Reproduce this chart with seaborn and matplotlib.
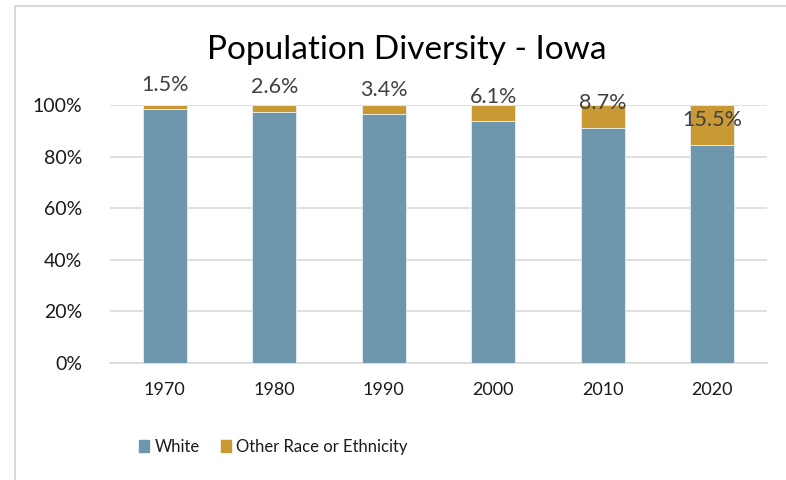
import matplotlib
matplotlib.use("Agg")
import matplotlib.pyplot as plt
import matplotlib.patches as mpatches
import seaborn as sns
import pandas as pd
from matplotlib.ticker import FuncFormatter

years = ["1970", "1980", "1990", "2000", "2010", "2020"]
white = [98.5, 97.4, 96.6, 93.9, 91.3, 84.5]
other = [1.5, 2.6, 3.4, 6.1, 8.7, 15.5]
other_labels = ["1.5%", "2.6%", "3.4%", "6.1%", "8.7%", "15.5%"]
label_y = [107.8, 107.0, 105.8, 103.1, 100.8, 94.2]

sns.set_theme(style="white")
plt.rcParams['font.family'] = ['Lato', 'DejaVu Sans']

BLUE = "#6E97AE"
GOLD = "#C99A34"

df = pd.DataFrame({"year": years, "white": white, "other": other})

fig = plt.figure(figsize=(7.86, 4.8), dpi=100)
ax = fig.add_axes([0.14, 0.244, 0.836, 0.537])

sns.barplot(data=df, x="year", y="white", color=BLUE, width=0.4, ax=ax,
            edgecolor="#E8EEF2", linewidth=0.6, saturation=1, zorder=3)
sns.barplot(data=df, x="year", y="other", color=GOLD, width=0.4, ax=ax,
            bottom=df["white"], edgecolor="#E8EEF2", linewidth=0.6, saturation=1, zorder=3)

ax.set_ylim(0, 100)
ax.set_xlim(-0.5, 5.5)
ax.set_yticks([0, 20, 40, 60, 80, 100])
ax.yaxis.set_major_formatter(FuncFormatter(lambda v, p: f"{int(v)}%"))
ax.grid(axis="y", color="#D9D9D9", linewidth=1.2, zorder=0)
ax.grid(axis="x", visible=False)
for s in ["top", "right", "left"]:
    ax.spines[s].set_visible(False)
ax.spines["bottom"].set_color("#D9D9D9")
ax.spines["bottom"].set_linewidth(1.2)
ax.set_xlabel("")
ax.set_ylabel("")
ax.tick_params(axis="both", length=0, colors="#1a1a1a")
ax.tick_params(axis="y", pad=20, labelsize=14)
ax.tick_params(axis="x", pad=14, labelsize=13)

for i, (lab, yv) in enumerate(zip(other_labels, label_y)):
    ax.text(i, yv, lab, ha="center", va="center", fontsize=15.5, color="#404040",
            clip_on=False, zorder=5)

fig.text(0.517, 0.895, "Population Diversity - Iowa", ha="center", va="center",
         fontsize=24, color="#000000")

handles = [mpatches.Patch(color=BLUE, label="White"),
           mpatches.Patch(color=GOLD, label="Other Race or Ethnicity")]
fig.legend(handles=handles, loc="center", bbox_to_anchor=(0.348, 0.069), ncol=2,
           frameon=False, fontsize=12,
           handlelength=0.6, handleheight=0.8,
           handletextpad=0.3, columnspacing=1.3, labelcolor="#1a1a1a")

border = mpatches.Rectangle((15 / 786, -0.1), 1.2, 1 - 6 / 480 + 0.1, transform=fig.transFigure,
                            fill=False, edgecolor="#D9D9D9", linewidth=1.5)
fig.patches.append(border)

fig.savefig("out.png", dpi=100)
